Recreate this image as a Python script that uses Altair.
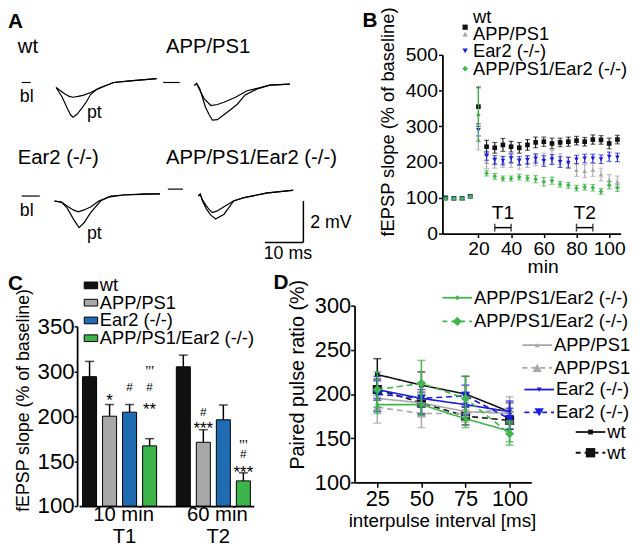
import altair as alt
import pandas as pd

FONT = "Liberation Sans"
W, H = 632, 538


def PX(x):
    return x - 8


def PY(y):
    return y - 8


GENOS = ["wt", "APP/PS1", "Ear2 (-/-)", "APP/PS1/Ear2 (-/-)"]
BLACK = "#111111"
GRAY = "#a8a8a8"
BLUE = "#1c1ce0"
GREEN = "#3fb54b"
BLUE_C = "#1f6cb3"
GREEN_C = "#3db44a"

# ---------------- Panel A: example traces (time ms, amplitude mV) ----------------
wt_bl_t = [0, 1.4, 2.4, 3.4, 4.4, 5.7, 7.0, 9.0, 11.5, 15.0, 19.3, 26.1]
wt_bl_v = [-0.24, -0.43, -0.57, -0.67, -0.71, -0.67, -0.62, -0.48, -0.24, 0.0, 0.08, 0.19]
wt_pt_t = [0, 1.6, 2.9, 3.8, 4.4, 5.5, 6.5, 7.8, 9.0, 10.6, 12.4, 14.9, 19.2, 26.1]
wt_pt_v = [-0.24, -0.71, -1.24, -1.57, -1.67, -1.52, -1.29, -0.95, -0.57, -0.33, -0.19, 0.0, 0.08, 0.19]
wt_base_t = [-8.9, -6.6]

app_bl_t = [0, 0.6, 1.5, 2.6, 4.3, 6.0, 7.7, 10.7, 13.7, 17.1, 19.6, 24.8]
app_bl_v = [-0.14, -0.05, -0.40, -0.79, -1.11, -1.06, -0.95, -0.71, -0.40, -0.24, -0.13, -0.08]
app_pt_t = [0, 0.6, 1.4, 2.1, 2.9, 3.9, 4.7, 6.0, 7.7, 9.3, 11.1, 13.2, 16.2, 19.6, 24.8]
app_pt_v = [-0.14, -0.05, -0.29, -0.71, -1.19, -1.57, -1.81, -1.79, -1.56, -1.33, -1.06, -0.60, -0.32, -0.13, -0.08]
app_base_t = [-8.1, -3.8]

ear_bl_t = [0, 1.8, 3.3, 4.9, 6.2, 7.7, 9.5, 11.5, 14.1, 17.9, 27.4]
ear_bl_v = [-0.24, -0.29, -0.48, -0.67, -0.76, -0.67, -0.52, -0.24, -0.05, 0.05, 0.10]
ear_pt_t = [0, 1.8, 3.3, 4.9, 6.4, 7.7, 9.4, 12.0, 14.6, 17.9, 23.1, 27.4]
ear_pt_v = [-0.24, -0.29, -0.57, -1.10, -1.52, -1.29, -0.80, -0.24, 0.0, 0.05, 0.10, 0.10]
ear_base_t = [-8.5, -3.8]

dko_bl_t = [0, 0.5, 1.1, 2.1, 2.9, 3.7, 4.9, 7.0, 9.1, 11.6, 17.8, 24.7]
dko_bl_v = [-0.33, -0.24, -0.52, -0.81, -1.0, -1.13, -1.05, -0.81, -0.57, -0.43, -0.19, -0.05]
dko_pt_t = [0, 0.5, 1.1, 2.1, 3.2, 4.5, 6.7, 9.2, 11.8, 17.8, 24.6]
dko_pt_v = [-0.33, -0.24, -0.57, -0.95, -1.24, -1.44, -1.21, -0.57, -0.41, -0.18, -0.06]
dko_base_t = [-7.9, -4.0]

SB_MS, SB_MV = 10, 2          # scale bar lengths
SB_T, SB_V = 27.3, -2.57      # scale bar corner (in last trace panel)

# ---------------- Panel B: LTP time course ----------------
b_time = [0, 5, 10, 15, 20, 25, 30, 35, 40, 45, 50, 55, 60, 65, 70, 75, 80, 85, 90, 95, 100, 105]
b_wt = [100, 98, 98, 104, 355, 243, 240, 248, 243, 240, 248, 255, 257, 252, 255, 257, 260, 257, 263, 262, 252, 263]
b_app = [99, 98, 97, 103, 264, 200, 198, 200, 200, 195, 200, 205, 210, 215, 208, 200, 178, 175, 178, 165, 150, 146]
b_ear = [98, 99, 98, 103, 290, 217, 206, 204, 211, 204, 206, 210, 203, 207, 200, 198, 207, 210, 210, 208, 215, 213]
b_dko = [97, 98, 98, 104, 332, 169, 160, 154, 154, 158, 155, 152, 145, 148, 138, 135, 127, 130, 128, 118, 135, 128]
b_wt_err = [3, 3, 3, 3, 55, 18, 15, 18, 15, 15, 15, 15, 13, 15, 12, 13, 12, 12, 13, 12, 15, 12]
b_app_err = [3, 3, 3, 3, 30, 18, 15, 15, 15, 15, 15, 15, 15, 18, 15, 15, 18, 18, 18, 18, 15, 15]
b_ear_err = [3, 3, 3, 3, 17, 12, 12, 12, 12, 12, 12, 13, 15, 14, 15, 15, 12, 12, 12, 12, 13, 12]
b_dko_err = [3, 3, 3, 3, 75, 8, 8, 7, 7, 8, 8, 10, 12, 10, 8, 8, 8, 8, 9, 8, 10, 10]
b_windows = ["T1", "T2"]
b_win_start = [30, 80]
b_win_end = [40, 90]

# ---------------- Panel C: bars ----------------
c_groups = ["T1", "T2"]
c_group_l1 = ["10 min", "60 min"]
c_mean_t1 = [288, 200, 209, 167]
c_mean_t2 = [305, 171, 196, 128]
c_err_t1 = [23, 26, 17, 8]
c_err_t2 = [13, 14, 29, 9]
c_ticks = [100, 150, 200, 300, 350]

# ---------------- Panel D: paired pulse ratio ----------------
d_iv = [25, 50, 75, 100]
d_series = [
    ("wt", "solid", [222, 210, 200, 180], [18, 15, 20, 10]),
    ("wt", "dashed", [205, 190, 175, 170], [12, 12, 10, 10]),
    ("APP/PS1", "solid", [195, 190, 180, 178], [10, 12, 10, 12]),
    ("APP/PS1", "dashed", [185, 178, 178, 183], [18, 16, 10, 14]),
    ("Ear2 (-/-)", "solid", [205, 195, 188, 180], [10, 10, 12, 12]),
    ("Ear2 (-/-)", "dashed", [200, 195, 198, 172], [20, 18, 12, 12]),
    ("APP/PS1/Ear2 (-/-)", "solid", [188, 188, 172, 158], [10, 12, 10, 12]),
    ("APP/PS1/Ear2 (-/-)", "dashed", [205, 212, 195, 155], [20, 26, 25, 13]),
]

SHAPES = ["square", "triangle-up", "triangle-down", "diamond"]
COLS = [BLACK, GRAY, BLUE, GREEN]
COLS_C = [BLACK, GRAY, BLUE_C, GREEN_C]

LEG_FS = 18.5
layers = []


def label(s, x, y, size=LEG_FS, align="left", baseline="middle", angle=0, bold=False, dx=0):
    return alt.Chart(pd.DataFrame({"s": [s]})).mark_text(
        font=FONT, fontSize=size, align=align, baseline=baseline, angle=angle,
        fontWeight="bold" if bold else "normal", color="black", dx=dx,
    ).encode(text="s:N", x=alt.value(PX(x)), y=alt.value(PY(y)))


def marker(x, y, shape, size, color, stroke=None):
    kw = dict(shape=shape, size=size, filled=True, fill=color, color=color, opacity=1)
    if stroke:
        kw.update(stroke=stroke, strokeWidth=1)
    return alt.Chart(pd.DataFrame({"k": [0]})).mark_point(**kw).encode(
        x=alt.value(PX(x)), y=alt.value(PY(y)))


def seg(x0, x1, y, color, dash=None, width=1.6):
    mk = dict(color=color, strokeWidth=width)
    if dash:
        mk["strokeDash"] = dash
    return alt.Chart(pd.DataFrame({"k": [0]})).mark_rule(**mk).encode(
        x=alt.value(PX(x0)), x2=alt.value(PX(x1)), y=alt.value(PY(y)))


# ---------------- Panel A ----------------
MS_PX, MV_PX = 3.9, 21.0


def trace_panel(bl_t, bl_v, pt_t, pt_v, base_t, ox, oy, bar=False):
    rows = [dict(trace="bl", t=t, v=v) for t, v in zip(bl_t, bl_v)]
    rows += [dict(trace="pt", t=t, v=v) for t, v in zip(pt_t, pt_v)]
    rows += [dict(trace="base", t=t, v=0.0) for t in base_t]
    df = pd.DataFrame(rows)
    sx = alt.Scale(domain=[0, 30], range=[PX(ox), PX(ox) + 30 * MS_PX], nice=False, zero=False)
    sy = alt.Scale(domain=[-3, 0], range=[PY(oy) + 3 * MV_PX, PY(oy)], nice=False, zero=False)
    ch = alt.Chart(df).mark_line(color="black", strokeWidth=1.2).encode(
        x=alt.X("t:Q", scale=sx, axis=None),
        y=alt.Y("v:Q", scale=sy, axis=None),
        detail="trace:N",
    )
    if not bar:
        return ch
    bdf = pd.DataFrame([
        dict(t0=SB_T - SB_MS, t1=SB_T, v0=SB_V, v1=SB_V),
        dict(t0=SB_T, t1=SB_T, v0=SB_V, v1=SB_V + SB_MV),
    ])
    sbar = alt.Chart(bdf).mark_rule(color="black", strokeWidth=1.5).encode(
        x=alt.X("t0:Q", scale=sx, axis=None), x2="t1:Q",
        y=alt.Y("v0:Q", scale=sy, axis=None), y2="v1:Q",
    )
    return alt.layer(ch, sbar)


layers.append(trace_panel(wt_bl_t, wt_bl_v, wt_pt_t, wt_pt_v, wt_base_t, 56.7, 80))
layers.append(trace_panel(app_bl_t, app_bl_v, app_pt_t, app_pt_v, app_base_t, 196.7, 80))
layers.append(trace_panel(ear_bl_t, ear_bl_v, ear_pt_t, ear_pt_v, ear_base_t, 55, 195))
layers.append(trace_panel(dko_bl_t, dko_bl_v, dko_pt_t, dko_pt_v, dko_base_t, 200.7, 188, bar=True))

for s, x, y, sz in [
    ("wt", 18, 50, 20.5), ("APP/PS1", 168, 50, 20.5),
    ("Ear2 (-/-)", 18, 163, 20.5), ("APP/PS1/Ear2 (-/-)", 168, 163, 20.5),
    ("bl", 20, 100, 18), ("pt", 88, 116, 18),
    ("bl", 20, 215, 18), ("pt", 88, 239, 18),
    ("2 mV", 314, 227, 18), ("10 ms", 267, 259, 18),
]:
    layers.append(label(s, x, y, sz, baseline="alphabetic"))

# ---------------- Panel B ----------------
rowsB = []
for g, ms, es in zip(GENOS, [b_wt, b_app, b_ear, b_dko], [b_wt_err, b_app_err, b_ear_err, b_dko_err]):
    for t, m, e in zip(b_time, ms, es):
        rowsB.append(dict(g=g, t=t, m=m, e=e))
dfB = pd.DataFrame(rowsB)

sxB = alt.Scale(domain=[-2, 107], range=[PX(448), PX(628.5)], nice=False, zero=False)
syB = alt.Scale(domain=[0, 500], range=[PY(233), PY(52)], nice=False, zero=False)
axBx = alt.Axis(orient="bottom", offset=PY(233) - H, values=[20, 40, 60, 80, 100], title=None,
                labelFontSize=19.5, tickSize=4, labelPadding=2)
axBy = alt.Axis(orient="left", offset=-PX(448), values=[0, 100, 200, 300, 400, 500], title=None,
                labelFontSize=19.5, tickSize=4, labelPadding=1)
xB = alt.X("t:Q", scale=sxB, axis=axBx)
cB = alt.Color("g:N", scale=alt.Scale(domain=GENOS, range=COLS), legend=None)
shB = alt.Shape("g:N", scale=alt.Scale(domain=GENOS, range=SHAPES), legend=None)

partsB = []
for g in GENOS:
    base = alt.Chart(dfB).transform_filter(alt.datum.g == g).transform_calculate(
        lo="datum.m - datum.e", hi="datum.m + datum.e")
    partsB.append(base.mark_rule(strokeWidth=1.1).encode(
        x=xB, y=alt.Y("lo:Q", scale=syB, axis=axBy), y2="hi:Q", color=cB))
    partsB.append(base.mark_tick(orient="horizontal", size=5, thickness=1.1).encode(
        x=xB, y=alt.Y("hi:Q", scale=syB, axis=axBy), color=cB))
    partsB.append(base.mark_tick(orient="horizontal", size=5, thickness=1.1).encode(
        x=xB, y=alt.Y("lo:Q", scale=syB, axis=axBy), color=cB))
    partsB.append(base.mark_point(filled=True, size=22, opacity=1).encode(
        x=xB, y=alt.Y("m:Q", scale=syB, axis=axBy), color=cB, shape=shB))

dfWin = pd.DataFrame(dict(name=b_windows, start=b_win_start, end=b_win_end))
winBase = alt.Chart(dfWin)
partsB.append(winBase.mark_rule(color="black", strokeWidth=1.5).encode(
    x=alt.X("start:Q", scale=sxB, axis=axBx), x2="end:Q", y=alt.value(PY(227))))
partsB.append(winBase.mark_tick(orient="vertical", size=8, thickness=1.5, color="black").encode(
    x=alt.X("start:Q", scale=sxB, axis=axBx), y=alt.value(PY(227))))
partsB.append(winBase.mark_tick(orient="vertical", size=8, thickness=1.5, color="black").encode(
    x=alt.X("end:Q", scale=sxB, axis=axBx), y=alt.value(PY(227))))
partsB.append(winBase.transform_calculate(mid="(datum.start + datum.end) / 2").mark_text(
    font=FONT, fontSize=19.5, baseline="middle", color="black").encode(
    x=alt.X("mid:Q", scale=sxB, axis=axBx), y=alt.value(PY(212)), text="name:N"))
layers.append(alt.layer(*partsB))

# legend B
layers.append(marker(471, 31, "triangle-up", 30, GRAY))
layers.append(marker(471, 24, "square", 28, BLACK))
layers.append(marker(471, 48, "triangle-down", 30, BLUE))
layers.append(marker(471, 66, "diamond", 34, GREEN))
for s, y in zip(GENOS, [14, 31, 48, 66]):
    layers.append(label(s, 479, y))
layers.append(label("fEPSP slope (% of baseline)", 393, 120, 18.5, align="center", angle=270))
layers.append(label("min", 550, 267, 19.5, align="center"))

# ---------------- Panel C ----------------
rowsC = []
for grp, ms, es in zip(c_groups, [c_mean_t1, c_mean_t2], [c_err_t1, c_err_t2]):
    for g, m, e in zip(GENOS, ms, es):
        rowsC.append(dict(group=grp, g=g, m=m, e=e))
dfC = pd.DataFrame(rowsC)

sxC = alt.Scale(domain=c_groups, range=[PX(80), PX(257)], paddingInner=0.21, paddingOuter=0.037)
xoC = alt.Scale(domain=GENOS, paddingInner=0.3, paddingOuter=0)
syC = alt.Scale(domain=c_ticks, range=[PY(509), PY(463.5), PY(418), PY(372.5), PY(327)],
                nice=False, zero=False)
axCx = alt.Axis(orient="bottom", offset=PY(509) - H, labels=False, ticks=False, title=None)
axCy = alt.Axis(orient="left", offset=-PX(78), values=c_ticks, title=None,
                labelFontSize=22.5, tickSize=3, labelPadding=0)
xC = alt.X("group:N", scale=sxC, axis=axCx)
xoffC = alt.XOffset("g:N", scale=xoC)

partsC = []
partsC.append(alt.Chart(dfC).mark_bar(stroke="black", strokeWidth=1).encode(
    x=xC, xOffset=xoffC, y=alt.Y("m:Q", scale=syC, axis=axCy), y2=alt.datum(100),
    color=alt.Color("g:N", scale=alt.Scale(domain=GENOS, range=COLS_C), legend=None)))
baseC = alt.Chart(dfC).transform_calculate(top="datum.m + datum.e")
partsC.append(baseC.mark_rule(color="black", strokeWidth=1.5).encode(
    x=xC, xOffset=xoffC, y=alt.Y("m:Q", scale=syC, axis=axCy), y2="top:Q"))
partsC.append(baseC.mark_tick(orient="horizontal", size=9, thickness=1.5, color="black").encode(
    x=xC, xOffset=xoffC, y=alt.Y("top:Q", scale=syC, axis=axCy)))

# significance marks (glyph centre heights, page px)
GLYPH_UP = {"*": 0.57, "#": 0.36, "\u2019": 0.62}
annots = [
    ("T1", "APP/PS1", "*", 398, 17),
    ("T1", "Ear2 (-/-)", "#", 388, 12),
    ("T1", "APP/PS1/Ear2 (-/-)", "\u2019\u2019\u2019", 369, 14),
    ("T1", "APP/PS1/Ear2 (-/-)", "#", 388, 12),
    ("T1", "APP/PS1/Ear2 (-/-)", "**", 407, 17),
    ("T2", "APP/PS1", "#", 413, 12),
    ("T2", "APP/PS1", "***", 426, 17),
    ("T2", "APP/PS1/Ear2 (-/-)", "\u2019\u2019\u2019", 444, 14),
    ("T2", "APP/PS1/Ear2 (-/-)", "#", 456, 12),
    ("T2", "APP/PS1/Ear2 (-/-)", "***", 471, 17),
]
for grp, g, s, yc, fs in annots:
    ybase = yc + GLYPH_UP[s[0]] * fs
    partsC.append(alt.Chart(pd.DataFrame(dict(group=[grp], g=[g], s=[s]))).mark_text(
        font=FONT, fontSize=fs, baseline="alphabetic", color="black").encode(
        x=xC, xOffset=xoffC, y=alt.value(PY(ybase)), text="s:N"))

dfCl = pd.DataFrame(dict(group=c_groups, l1=c_group_l1, l2=c_groups))
partsC.append(alt.Chart(dfCl).mark_text(font=FONT, fontSize=20.5, baseline="middle", color="black", dx=4).encode(
    x=xC, y=alt.value(PY(518)), text="l1:N"))
partsC.append(alt.Chart(dfCl).mark_text(font=FONT, fontSize=20.5, baseline="middle", color="black", dx=5).encode(
    x=xC, y=alt.value(PY(540)), text="l2:N"))
layers.append(alt.layer(*partsC))

for g, col, y in zip(GENOS, COLS_C, [285.5, 303, 321, 339]):
    layers.append(marker(92, y, "M-1,-0.5L1,-0.5L1,0.5L-1,0.5Z", 185, col, stroke="black"))
    layers.append(label(g, 101, y))
layers.append(label("fEPSP slope (% of baseline)", 24, 402, 18, align="center", angle=270))

# ---------------- Panel D ----------------
rowsD = []
for g, st, ms, es in d_series:
    for iv, m, e in zip(d_iv, ms, es):
        rowsD.append(dict(g=g, style=st, iv=iv, m=m, e=e))
dfD = pd.DataFrame(rowsD)

sxD = alt.Scale(domain=[12.1, 112.3], range=[PX(359), PX(538)], nice=False, zero=False)
syD = alt.Scale(domain=[100, 300], range=[PY(485), PY(306)], nice=False, zero=False)
axDx = alt.Axis(orient="bottom", offset=PY(485) - H, values=d_iv, title=None,
                labelFontSize=22, tickSize=5, labelPadding=1)
axDy = alt.Axis(orient="left", offset=-PX(359), values=[100, 150, 200, 250, 300], title=None,
                labelFontSize=22, tickSize=4, labelPadding=0)
xD = alt.X("iv:Q", scale=sxD, axis=axDx)
cD = alt.Color("g:N", scale=alt.Scale(domain=GENOS, range=COLS), legend=None)
shD = alt.Shape("g:N", scale=alt.Scale(domain=GENOS, range=SHAPES), legend=None)
dashD = alt.StrokeDash("style:N", scale=alt.Scale(domain=["solid", "dashed"], range=[[1, 0], [6, 4]]), legend=None)
sizeD = alt.Size("style:O", scale=alt.Scale(domain=["solid", "dashed"], range=[22, 85]), legend=None)

partsD = []
for g in GENOS:
    base = alt.Chart(dfD).transform_filter(alt.datum.g == g).transform_calculate(
        lo="datum.m - datum.e", hi="datum.m + datum.e")
    partsD.append(base.mark_rule(strokeWidth=1.5).encode(
        x=xD, y=alt.Y("lo:Q", scale=syD, axis=axDy), y2="hi:Q", color=cD))
    partsD.append(base.mark_tick(orient="horizontal", size=8, thickness=1.5).encode(
        x=xD, y=alt.Y("hi:Q", scale=syD, axis=axDy), color=cD))
    partsD.append(base.mark_tick(orient="horizontal", size=8, thickness=1.5).encode(
        x=xD, y=alt.Y("lo:Q", scale=syD, axis=axDy), color=cD))
    partsD.append(base.mark_line(strokeWidth=1.6).encode(
        x=xD, y=alt.Y("m:Q", scale=syD, axis=axDy), color=cD, strokeDash=dashD, detail="style:N"))
    partsD.append(base.mark_point(filled=True, opacity=1).encode(
        x=xD, y=alt.Y("m:Q", scale=syD, axis=axDy), color=cD, shape=shD, size=sizeD))
layers.append(alt.layer(*partsD))

# legend D
legD = [
    ("APP/PS1/Ear2 (-/-)", GREEN, "diamond", 448, 478, 480, [298, 322]),
    ("APP/PS1", GRAY, "triangle-up", 529, 559, 561, [346, 369]),
    ("Ear2 (-/-)", BLUE, "triangle-down", 531, 561, 563, [391, 414]),
    ("wt", BLACK, "square", 583, 613, 615, [434, 455]),
]
for s, col, shp, l0, l1, tx, ys in legD:
    for st, y in zip(["solid", "dashed"], ys):
        layers.append(seg(l0, l1, y, col, dash=None if st == "solid" else [5, 4], width=1.8))
        layers.append(marker((l0 + l1) / 2, y, shp, 24 if st == "solid" else 90, col))
        layers.append(label(s, tx, y))

layers.append(label("Paired pulse ratio (%)", 302, 376, 20, align="center", angle=270))
layers.append(label("interpulse interval [ms]", 448, 524, 19, align="center"))

# panel letters
for s, x, y in [("A", 8, 19), ("B", 367, 18), ("C", 8, 284), ("D", 277, 283)]:
    layers.append(label(s, x, y, 21, bold=True))

chart = alt.layer(*layers).resolve_scale(
    x="independent", y="independent", color="independent", shape="independent",
    size="independent", strokeDash="independent", xOffset="independent",
).resolve_axis(x="independent", y="independent").properties(
    width=W, height=H, padding=0, autosize=alt.AutoSizeParams(type="none"),
).configure_view(stroke=None).configure_axis(
    grid=False, labelFont=FONT, labelColor="black", domainColor="black", tickColor="black",
    domainWidth=1.8, tickWidth=1.5, labelOverlap=False, labelFlush=False,
)

chart.save("out.html", embed_options={"renderer": "svg", "actions": False})
